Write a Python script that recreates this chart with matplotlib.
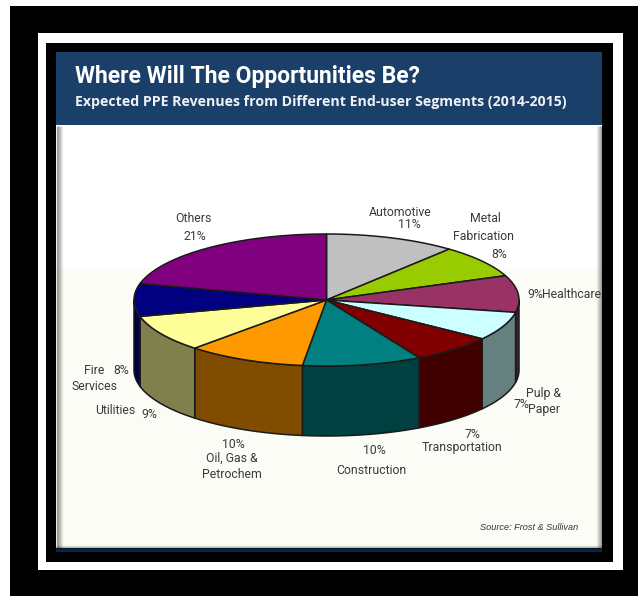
import matplotlib
matplotlib.use("Agg")
import matplotlib.pyplot as plt
import matplotlib.patches as patches
from matplotlib.colors import to_rgb
import numpy as np

# End-user segments, clockwise from twelve o'clock
segments = ["Automotive", "Metal Fabrication", "Healthcare", "Pulp & Paper",
            "Transportation", "Construction", "Oil, Gas & Petrochem",
            "Utilities", "Fire Services", "Others"]
shares = [11, 8, 9, 7, 7, 10, 10, 9, 8, 21]
slice_colors = ["#C0C0C0", "#99CC00", "#993366", "#CCFFFF", "#800000",
                "#008080", "#FF9900", "#FFFF99", "#000080", "#800080"]

title = "Where Will The Opportunities Be?"
subtitle = "Expected PPE Revenues from Different End-user Segments (2014-2015)"
source = "Source: Frost & Sullivan"

# Label fragments as they sit around the pie: text, x, y
pie_labels = [
    ("Others", 193, 218), ("21%", 195, 236),
    ("Automotive", 400, 212), ("11%", 409, 225),
    ("Metal", 485, 219), ("Fabrication", 484, 236), ("8%", 499, 254),
    ("9%", 535, 294), ("Healthcare", 572, 294),
    ("Pulp &", 544, 393), ("Paper", 544, 410), ("7%", 521, 404),
    ("7%", 472, 434), ("Transportation", 462, 447),
    ("10%", 374, 450), ("Construction", 371, 470),
    ("10%", 233, 445), ("Oil, Gas &", 232, 458), ("Petrochem", 232, 475),
    ("Utilities", 115, 411), ("9%", 149, 414),
    ("Fire", 94, 370), ("8%", 121, 371), ("Services", 95, 386),
]

CX, CY = 326.5, 300
RX, RY = 192.5, 66
DEPTH = 70
EDGE = "#1a1a1a"


def arc(start, end):
    """Points on the top rim between two angles, clockwise from the top."""
    t = np.radians(np.linspace(start, end, max(int(end - start) * 2, 2)))
    return CX + RX * np.sin(t), CY - RY * np.cos(t)


fig = plt.figure(figsize=(6.38, 5.96), dpi=100, facecolor="white")
ax = fig.add_axes([0, 0, 1, 1])
ax.set_xlim(0, 638)
ax.set_ylim(596, 0)
ax.axis("off")


def box(x0, y0, x1, y1, color, **kw):
    ax.add_patch(patches.Rectangle((x0, y0), x1 - x0, y1 - y0, facecolor=color,
                                   edgecolor="none", **kw))


# Nested frames
box(10, 6, 638, 596, "black")
box(37.5, 33, 622.5, 570, "white")
box(46, 43, 613, 562, "black")
box(56, 52, 602, 552, "#0A2540")
box(56, 52, 602, 125, "#1A3F69")
box(56, 125, 602, 268, "white")
box(56, 268, 602, 548, "#FCFCF6")

# Soft shadow along the panel edges
for i in range(6):
    a = 0.34 * (1 - i / 6)
    ax.plot([56 + i + 0.5] * 2, [126, 548], color="black", alpha=a, lw=1, solid_capstyle="butt")
    ax.plot([602 - i - 0.5] * 2, [126, 548], color="black", alpha=a, lw=1, solid_capstyle="butt")
for i in range(3):
    ax.plot([56, 602], [548 - i - 0.5] * 2, color="black", alpha=0.3 * (1 - i / 3), lw=1, solid_capstyle="butt")

ax.text(75, 77, title, color="white", fontsize=16.5, fontweight="bold",
        family="Roboto", va="center", ha="left")
ax.text(75, 102, subtitle, color="#EEF2F6", fontsize=10.2, fontweight="bold",
        family="Open Sans", va="center", ha="left")

# Pie: rim first, then the top face over it
angles = np.cumsum([0] + shares) * 360 / sum(shares)
for i, color in enumerate(slice_colors):
    start = max(angles[i], 90)
    end = min(angles[i + 1], 270)
    if start >= end:
        continue
    x, y = arc(start, end)
    dark = tuple(c * 0.5 for c in to_rgb(color))
    ax.fill(np.r_[x, x[::-1]], np.r_[y, y[::-1] + DEPTH], facecolor=dark,
            edgecolor=EDGE, lw=1.1, joinstyle="round")

for i, color in enumerate(slice_colors):
    x, y = arc(angles[i], angles[i + 1])
    ax.fill(np.r_[CX, x], np.r_[CY, y], facecolor=color, edgecolor=EDGE,
            lw=1.1, joinstyle="round")

for text, x, y in pie_labels:
    ax.text(x, y, text, color="#3A3A3A", fontsize=8.8, family="Roboto",
            ha="center", va="center")

ax.text(578, 527, source, color="#333333", fontsize=6.6, style="italic",
        family="Liberation Sans", ha="right", va="center")

fig.savefig("out.png", dpi=100, facecolor="white")
